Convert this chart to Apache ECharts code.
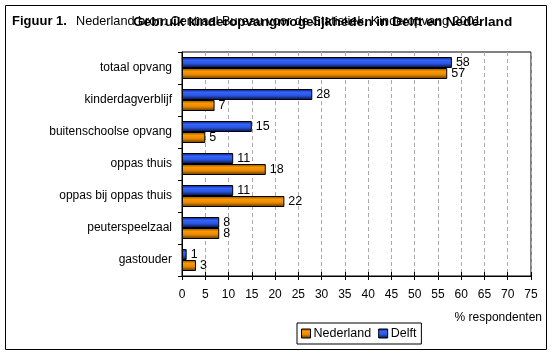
<!DOCTYPE html>
<html><head><meta charset="utf-8">
<script src="https://cdn.jsdelivr.net/npm/echarts@6/dist/echarts.min.js"></script>
<style>html,body{margin:0;padding:0;background:#fff}#c{width:555px;height:356px}</style>
</head><body><div id="c"></div>
<script>
var categories = ['totaal opvang','kinderdagverblijf','buitenschoolse opvang','oppas thuis','oppas bij oppas thuis','peuterspeelzaal','gastouder'];
var nederland = [57, 7, 5, 18, 22, 8, 3];
var delft = [58, 28, 15, 11, 11, 8, 1];
var xTicks = [0, 75, 5];

var F = '"Liberation Sans", Arial, sans-serif';
function grad(c0, c1, c2, c3) {
  return new echarts.graphic.LinearGradient(0, 0, 0, 1, [
    {offset: 0, color: c0}, {offset: 0.3, color: c1}, {offset: 0.6, color: c2}, {offset: 1, color: c3}
  ]);
}
var chart = echarts.init(document.getElementById('c'), null, {renderer: 'canvas'});
chart.setOption({
  animation: false,
  textStyle: {fontFamily: F},
  title: [
    {text: 'Figuur 1.', left: 7, top: 10, textStyle: {fontSize: 13, fontWeight: 'bold', color: '#000', fontFamily: F}},
    {text: 'Nederland bron: Centraal Bureau voor de Statistiek, Kinderopvang 2001', left: 71, top: 10, textStyle: {fontSize: 12.7, fontWeight: 'normal', color: '#000', fontFamily: F}},
    {text: 'Gebruik kinderopvangmogelijkheden in Delft en Nederland', left: 128, top: 10, textStyle: {fontSize: 13.6, fontWeight: 'bold', color: '#000', fontFamily: F}}
  ],
  graphic: [
    {type: 'rect', shape: {x: 5.5, y: 5.5, width: 541, height: 344}, style: {fill: 'none', stroke: '#000', lineWidth: 1}, silent: true, z: -1},
    {type: 'text', right: 13, top: 312, style: {text: '% respondenten', fontSize: 12, fontFamily: F, fill: '#000'}}
  ],
  legend: {
    data: ['Nederland', 'Delft'],
    left: 297, top: 323,
    padding: [4, 5, 4, 4],
    itemWidth: 9, itemHeight: 9, itemGap: 7,
    icon: 'rect',
    borderColor: '#000', borderWidth: 1,
    textStyle: {fontSize: 12.5, color: '#000', fontFamily: F, padding: [0, 0, 0, -2]},
    itemStyle: {borderColor: '#000', borderWidth: 1}
  },
  grid: {left: 182, right: 24, top: 52, bottom: 80, show: true, borderColor: '#000', borderWidth: 1},
  xAxis: [
    {type: 'value', min: xTicks[0], max: xTicks[1], interval: xTicks[2],
     axisLine: {show: true, lineStyle: {color: '#000'}},
     axisTick: {show: true, length: 4, lineStyle: {color: '#000'}},
     axisLabel: {fontSize: 12, color: '#000', margin: 13, fontFamily: F},
     splitLine: {show: true, lineStyle: {color: '#aaa', type: [4, 3]}}},
    {type: 'value', position: 'bottom', min: xTicks[0], max: xTicks[1], interval: xTicks[2],
     axisLine: {show: false}, axisTick: {show: true, inside: true, length: 4, lineStyle: {color: '#000'}},
     axisLabel: {show: false}, splitLine: {show: false}}
  ],
  yAxis: {type: 'category', data: categories, inverse: true,
    axisLine: {show: true, lineStyle: {color: '#000'}},
    axisTick: {show: true, length: 4, lineStyle: {color: '#000'}},
    axisLabel: {fontSize: 12, color: '#000', margin: 10, fontFamily: F}},
  series: [
    {name: 'Delft', type: 'bar', data: delft, barWidth: 11, barGap: '0%',
     itemStyle: {color: grad('#001a66', '#3366ff', '#2a55dd', '#000d40'), borderColor: '#000', borderWidth: 1},
     label: {show: true, position: 'right', distance: 4, fontSize: 12.5, color: '#000', fontFamily: F}},
    {name: 'Nederland', type: 'bar', data: nederland, barWidth: 11, barGap: '0%',
     itemStyle: {color: grad('#7a4a00', '#ff9900', '#e68a00', '#5c3300'), borderColor: '#000', borderWidth: 1},
     label: {show: true, position: 'right', distance: 4, fontSize: 12.5, color: '#000', fontFamily: F}}
  ]
});
</script></body></html>
